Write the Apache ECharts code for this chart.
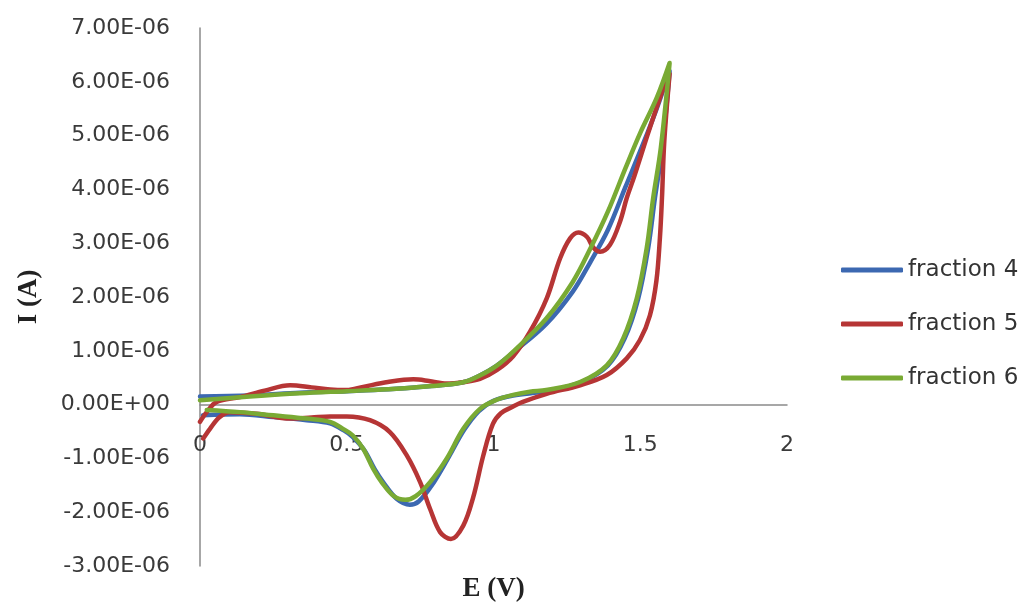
<!DOCTYPE html>
<html>
<head>
<meta charset="utf-8">
<script src="https://cdn.jsdelivr.net/npm/echarts@6/dist/echarts.min.js"></script>
<style>html,body{margin:0;padding:0;background:#fff;}#c{width:1023px;height:604px;}</style>
</head>
<body>
<div id="c"></div>
<script>
// Potential E (V) and current I (in microamperes, scaled to A below)
const seriesNames = ['fraction 4', 'fraction 5', 'fraction 6'];
const xTicks = [0, 0.5, 1, 1.5, 2];
const yTicksMicro = [-3, -2, -1, 0, 1, 2, 3, 4, 5, 6, 7];

const fraction4 = [
  [0.00, 0.15], [0.17, 0.17], [0.34, 0.22], [0.50, 0.25], [0.62, 0.28], [0.73, 0.32], [0.82, 0.36],
  [0.90, 0.42], [0.95, 0.53], [1.01, 0.72], [1.07, 0.98], [1.18, 1.50], [1.27, 2.10], [1.33, 2.65],
  [1.39, 3.25], [1.45, 4.05], [1.51, 4.85], [1.556, 5.50], [1.60, 6.20],
  [1.575, 4.77], [1.55, 3.84], [1.527, 2.91], [1.493, 1.97], [1.447, 1.23], [1.39, 0.73],
  [1.30, 0.42], [1.18, 0.25], [1.067, 0.17], [1.00, 0.07], [0.95, -0.12], [0.90, -0.47],
  [0.845, -1.00], [0.79, -1.50], [0.745, -1.80], [0.715, -1.86], [0.67, -1.75],
  [0.625, -1.45], [0.595, -1.20], [0.56, -0.85], [0.52, -0.60], [0.49, -0.48],
  [0.443, -0.35], [0.364, -0.29], [0.25, -0.23], [0.136, -0.18], [0.01, -0.20]
];

const fraction5 = [
  [0.00, -0.32], [0.023, -0.14], [0.057, 0.05], [0.136, 0.14], [0.22, 0.26], [0.307, 0.36],
  [0.38, 0.32], [0.443, 0.28], [0.50, 0.27], [0.556, 0.33], [0.64, 0.42], [0.727, 0.47],
  [0.78, 0.44], [0.841, 0.39], [0.90, 0.42], [0.954, 0.48], [1.011, 0.64], [1.067, 0.90],
  [1.124, 1.35], [1.181, 1.97], [1.227, 2.72], [1.261, 3.09], [1.289, 3.20], [1.318, 3.12],
  [1.340, 2.92], [1.363, 2.84], [1.397, 2.97], [1.431, 3.40], [1.454, 3.84], [1.48, 4.25],
  [1.53, 5.10], [1.58, 5.90], [1.60, 6.15],
  [1.582, 4.90], [1.574, 3.84], [1.567, 3.10], [1.555, 2.30], [1.533, 1.66], [1.499, 1.20],
  [1.454, 0.86], [1.386, 0.55], [1.295, 0.36], [1.181, 0.20], [1.10, 0.05], [1.062, -0.05],
  [1.025, -0.16], [0.998, -0.36], [0.965, -0.95], [0.931, -1.72], [0.897, -2.25],
  [0.855, -2.50], [0.818, -2.37], [0.784, -1.94], [0.75, -1.44], [0.704, -0.94],
  [0.647, -0.51], [0.579, -0.29], [0.50, -0.22], [0.443, -0.22], [0.38, -0.24],
  [0.307, -0.26], [0.193, -0.17], [0.10, -0.14], [0.065, -0.24], [0.034, -0.45], [0.011, -0.63]
];

const fraction6 = [
  [0.00, 0.08], [0.17, 0.15], [0.34, 0.21], [0.50, 0.25], [0.62, 0.28], [0.73, 0.32], [0.82, 0.36],
  [0.90, 0.42], [0.95, 0.53], [1.01, 0.72], [1.07, 1.00], [1.18, 1.60], [1.27, 2.28], [1.33, 2.90],
  [1.39, 3.59], [1.45, 4.40], [1.50, 5.05], [1.556, 5.70], [1.60, 6.35],
  [1.57, 4.77], [1.544, 3.84], [1.522, 2.91], [1.488, 1.97], [1.442, 1.23], [1.386, 0.73],
  [1.295, 0.42], [1.18, 0.27], [1.124, 0.24], [1.067, 0.18], [1.011, 0.09], [0.954, -0.08],
  [0.897, -0.45], [0.841, -1.00], [0.784, -1.44], [0.735, -1.70], [0.70, -1.77],
  [0.66, -1.70], [0.62, -1.45], [0.59, -1.19], [0.556, -0.82], [0.52, -0.57],
  [0.487, -0.45], [0.443, -0.32], [0.364, -0.26], [0.25, -0.20], [0.136, -0.14], [0.023, -0.10]
];

const colors = ['#3C68B1', '#B63535', '#79AA34'];
const MICRO = 1e-6;
const toAmps = pts => pts.map(p => [p[0], p[1] * MICRO]);
const allData = [fraction4, fraction5, fraction6];

function fmtExp(v) {
  if (Math.abs(v) < 1e-12) return '0.00E+00';
  const s = v.toExponential(2);
  const m = s.match(/^(-?[\d.]+)e([+-])(\d+)$/);
  return m[1] + 'E' + m[2] + (m[3].length < 2 ? '0' + m[3] : m[3]);
}

const chart = echarts.init(document.getElementById('c'));
chart.setOption({
  animation: false,
  backgroundColor: '#ffffff',
  grid: { left: 200, right: 236, top: 28, bottom: 38, containLabel: false, outerBoundsMode: 'none' },
  xAxis: {
    type: 'value',
    min: xTicks[0], max: xTicks[xTicks.length - 1], interval: 0.5,
    axisLine: { onZero: true, lineStyle: { color: '#8a8a8a', width: 1.5 } },
    axisTick: { show: false },
    splitLine: { show: false },
    axisLabel: { margin: -132, color: '#3a3a3a', fontSize: 22, fontFamily: 'DejaVu Sans' },
    name: 'E (V)', nameLocation: 'middle', nameGap: 10,
    nameTextStyle: { fontFamily: 'Liberation Serif', fontWeight: 'bold', fontSize: 27, color: '#222' }
  },
  yAxis: {
    type: 'value',
    min: yTicksMicro[0] * MICRO, max: yTicksMicro[yTicksMicro.length - 1] * MICRO, interval: MICRO,
    axisLine: { show: true, onZero: false, lineStyle: { color: '#8a8a8a', width: 1.5 } },
    axisTick: { show: false },
    splitLine: { show: false },
    axisLabel: { margin: 30, color: '#3a3a3a', fontSize: 22, fontFamily: 'DejaVu Sans', formatter: fmtExp },
    name: 'I (A)', nameLocation: 'middle', nameGap: 157,
    nameTextStyle: { fontFamily: 'Liberation Serif', fontWeight: 'bold', fontSize: 27, color: '#222' }
  },
  legend: {
    orient: 'vertical', left: 836, top: 253,
    itemWidth: 62, itemHeight: 5, itemGap: 30, icon: 'roundRect',
    textStyle: { fontFamily: 'DejaVu Sans', fontSize: 23, color: '#333', lineHeight: 24 },
    data: seriesNames
  },
  series: allData.map((d, i) => ({
    name: seriesNames[i],
    type: 'line',
    data: toAmps(d),
    smooth: 0.35,
    symbol: 'none',
    lineStyle: { color: colors[i], width: 4.5, cap: 'round', join: 'round' },
    itemStyle: { color: colors[i] }
  }))
});
</script>
</body>
</html>
